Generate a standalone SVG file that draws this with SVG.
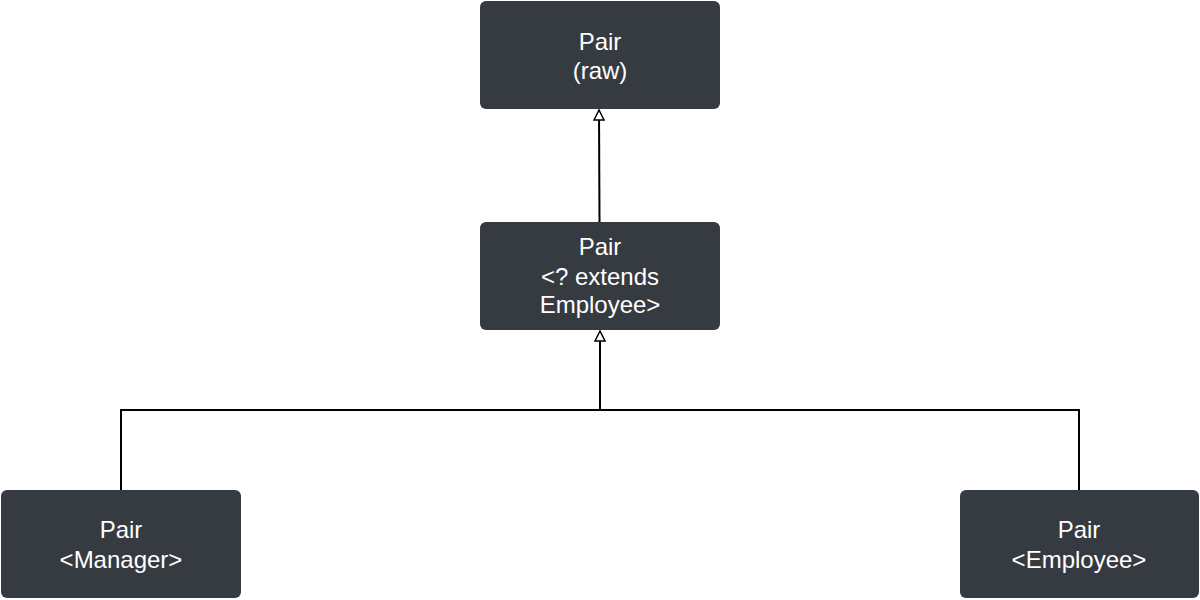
<svg xmlns="http://www.w3.org/2000/svg" width="1200" height="600" viewBox="0 0 1200 600">
<style>
.box{fill:#363a41;}
.t{font-family:"Liberation Sans",Arial,sans-serif;font-size:24px;fill:#ffffff;text-anchor:middle;}
.c{fill:none;stroke:#000;stroke-width:2;}
</style>
<defs>
<marker id="tri" viewBox="0 0 12 12" refX="11" refY="6" markerWidth="12" markerHeight="12" markerUnits="userSpaceOnUse" orient="auto">
<path d="M1,1 L11,6 L1,11 Z" fill="#fff" stroke="#000" stroke-width="1.5"/>
</marker>
</defs>
<rect width="1200" height="600" fill="#fff"/>
<g id="connectors">
<path class="c" d="M599.5,222 L599,110" marker-end="url(#tri)"/>
<path class="c" d="M121,490 L121,410 L1079,410 L1079,490"/>
<path class="c" d="M600,410 L600,331" marker-end="url(#tri)"/>
</g>
<g id="raw">
<rect class="box" x="480" y="1" width="240" height="108" rx="6"/>
<text class="t" x="600" y="50">Pair</text>
<text class="t" x="600" y="79">(raw)</text>
</g>
<g id="wildcard">
<rect class="box" x="480" y="222" width="240" height="108" rx="6"/>
<text class="t" x="600" y="255">Pair</text>
<text class="t" x="600" y="285">&lt;? extends</text>
<text class="t" x="600" y="313">Employee&gt;</text>
</g>
<g id="manager">
<rect class="box" x="1" y="490" width="240" height="108" rx="6"/>
<text class="t" x="121" y="538">Pair</text>
<text class="t" x="121" y="568">&lt;Manager&gt;</text>
</g>
<g id="employee">
<rect class="box" x="960" y="490" width="239" height="108" rx="6"/>
<text class="t" x="1079" y="538">Pair</text>
<text class="t" x="1079" y="568">&lt;Employee&gt;</text>
</g>
</svg>
